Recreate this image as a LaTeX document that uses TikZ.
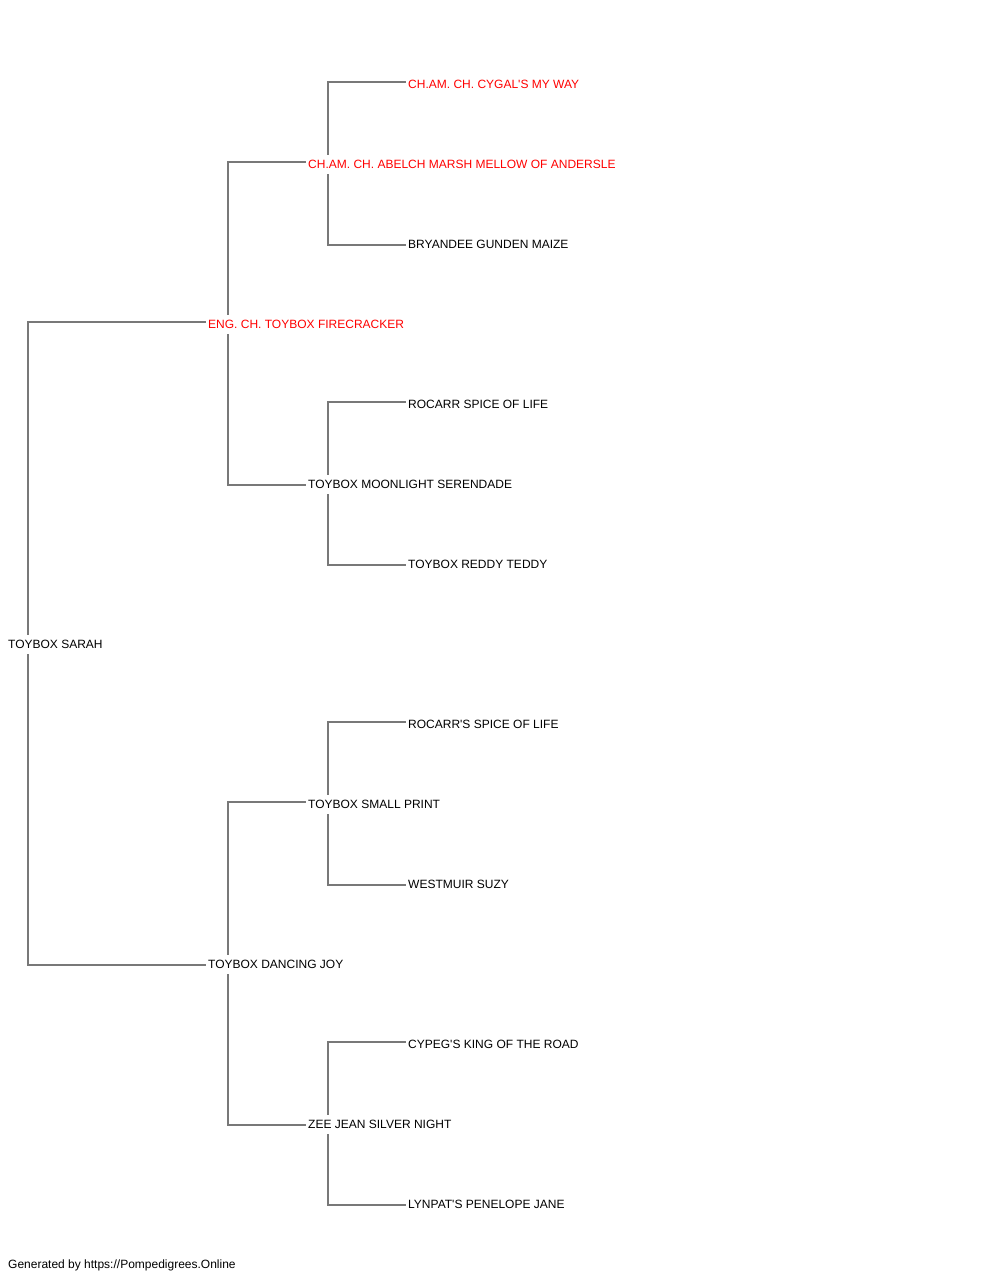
\documentclass[tikz,border=0pt]{standalone}
\usepackage{fontspec}
\setmainfont{Liberation Sans}
\definecolor{linegray}{RGB}{120,120,120}
\definecolor{namered}{RGB}{255,0,0}
\tikzset{
  dog/.style={anchor=base west, inner xsep=2pt, inner ysep=0pt, text height=13pt, text depth=6pt, font=\fontsize{12}{14}\selectfont, text=black},
  champ/.style={dog, text=namered},
  link/.style={draw=linegray, line width=1.3pt},
}
\newcommand{\apo}{\textquotesingle{}}
\begin{document}
\begin{tikzpicture}[x=1pt,y=-1pt]
\useasboundingbox (0,0) rectangle (1000,1280);
% nodes
\node[dog]   (root) at (6,648)  {TOYBOX SARAH};
\node[champ] (s)    at (206,328) {ENG. CH. TOYBOX FIRECRACKER};
\node[dog]   (d)    at (206,968) {TOYBOX DANCING JOY};
\node[champ] (ss)   at (306,168) {CH.AM. CH. ABELCH MARSH MELLOW OF ANDERSLE};
\node[dog]   (sd)   at (306,488) {TOYBOX MOONLIGHT SERENDADE};
\node[dog]   (ds)   at (306,808) {TOYBOX SMALL PRINT};
\node[dog]   (dd)   at (306,1128) {ZEE JEAN SILVER NIGHT};
\node[champ] (sss)  at (406,88)  {CH.AM. CH. CYGAL\apo S MY WAY};
\node[dog]   (ssd)  at (406,248) {BRYANDEE GUNDEN MAIZE};
\node[dog]   (sds)  at (406,408) {ROCARR SPICE OF LIFE};
\node[dog]   (sdd)  at (406,568) {TOYBOX REDDY TEDDY};
\node[dog]   (dss)  at (406,728) {ROCARR\apo S SPICE OF LIFE};
\node[dog]   (dsd)  at (406,888) {WESTMUIR SUZY};
\node[dog]   (dds)  at (406,1048) {CYPEG\apo S KING OF THE ROAD};
\node[dog]   (ddd)  at (406,1208) {LYNPAT\apo S PENELOPE JANE};
\node[dog]   (foot) at (6,1268) {Generated by https://Pompedigrees.Online};
% connectors
\foreach \p/\a/\b in {root/s/d, s/ss/sd, d/ds/dd, ss/sss/ssd, sd/sds/sdd, ds/dss/dsd, dd/dds/ddd}{
  \draw[link] ([xshift=22pt]\p.north west) |- ([yshift=6pt]\a.base west);
  \draw[link] ([xshift=22pt]\p.south west) |- ([yshift=3pt]\b.base west);
}
\end{tikzpicture}
\end{document}
